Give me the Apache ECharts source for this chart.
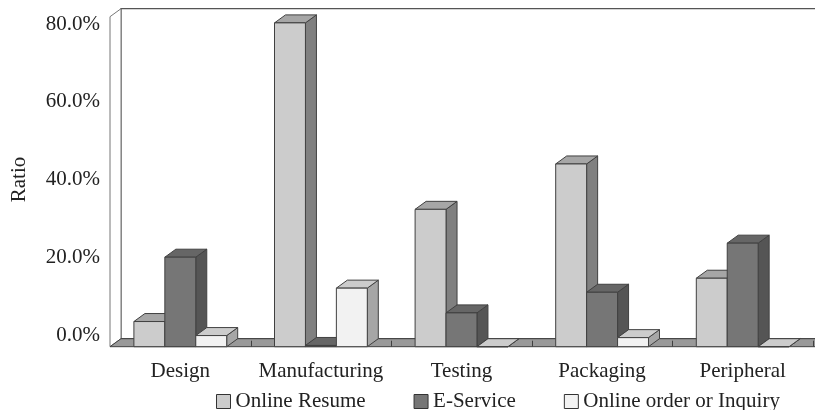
<!DOCTYPE html>
<html>
<head>
<meta charset="utf-8">
<script src="https://cdn.jsdelivr.net/npm/echarts@6/dist/echarts.min.js"></script>
<style>
html,body{margin:0;padding:0;background:#fff}
#chart{width:815px;height:410px}
</style>
</head>
<body>
<div id="chart"></div>
<script>
// data
var categories = ['Design', 'Manufacturing', 'Testing', 'Packaging', 'Peripheral'];
var seriesNames = ['Online Resume', 'E-Service', 'Online order or Inquiry'];
var onlineResume = [6.1, 78.5, 33.3, 44.3, 16.6];
var eService = [21.7, 0.3, 8.2, 13.2, 25.1];
var onlineOrder = [2.7, 14.2, 0, 2.2, 0];
var yTicks = [0, 20, 40, 60, 80];

var FONT = 'Liberation Serif';
var DX = 11, DY = -8; // depth of the fake 3d
var faceColors = [
    {front: '#cccccc', top: '#a6a6a6', side: '#808080'},
    {front: '#767676', top: '#666666', side: '#555555'},
    {front: '#f2f2f2', top: '#cccccc', side: '#a6a6a6'}
];
var EDGE = '#404040';

function toData(arr) {
    var res = [];
    for (var i = 0; i < arr.length; i++) {
        res.push([i, arr[i]]);
    }
    return res;
}

//画立体柱子
function barRender(k) {
    return function (params, api) {
        var cat = api.value(0), val = api.value(1);
        var band = api.size([1, 0])[0];
        var c = api.coord([cat, 0]);
        var t = api.coord([cat, val]);
        var w = band * 0.22;
        var x0 = c[0] - band / 2 + band * 0.17 + k * w;
        var base = c[1], top = t[1];
        var col = faceColors[k];
        return {
            type: 'group',
            children: [
                {type: 'polygon', shape: {points: [[x0 + w, top], [x0 + w + DX, top + DY], [x0 + w + DX, base + DY], [x0 + w, base]]},
                    style: {fill: col.side, stroke: EDGE, lineWidth: 1}},
                {type: 'polygon', shape: {points: [[x0, top], [x0 + DX, top + DY], [x0 + w + DX, top + DY], [x0 + w, top]]},
                    style: {fill: col.top, stroke: EDGE, lineWidth: 1}},
                {type: 'rect', shape: {x: x0, y: top, width: w, height: base - top},
                    style: {fill: col.front, stroke: EDGE, lineWidth: 1}}
            ]
        };
    };
}

//墙和地板
function wallRender(params, api) {
    var cs = params.coordSys;
    var x = cs.x, y = cs.y, w = cs.width, h = cs.height;
    var band = api.size([1, 0])[0];
    var children = [
        {type: 'rect', shape: {x: x + DX, y: y + DY, width: w + 20, height: h},
            style: {fill: '#fff', stroke: '#555', lineWidth: 1.2}},
        {type: 'polygon', shape: {points: [[x, y], [x + DX, y + DY], [x + DX, y + h + DY], [x, y + h]]},
            style: {fill: '#fff', stroke: '#777', lineWidth: 1}},
        {type: 'polygon', shape: {points: [[x, y + h], [x + DX, y + h + DY], [x + w + DX + 20, y + h + DY], [x + w + 20, y + h]]},
            style: {fill: '#999', stroke: EDGE, lineWidth: 1}}
    ];
    for (var i = 1; i <= categories.length; i++) {
        var bx = Math.round(x + band * i) + 0.5;
        children.push({type: 'line', shape: {x1: bx, y1: y + h, x2: bx, y2: y + h + DY + 2},
            style: {stroke: EDGE, lineWidth: 1}});
    }
    return {type: 'group', children: children};
}

var myChart = echarts.init(document.getElementById('chart'));
var option = {
    animation: false,
    textStyle: {fontFamily: FONT},
    grid: [
        {left: 110, right: 2, top: 16.7, bottom: 63.3, outerBoundsMode: 'none'},
        {left: 110, right: 2, top: 24, bottom: 75, outerBoundsMode: 'none'}
    ],
    legend: {
        data: seriesNames,
        left: 211,
        top: 386,
        icon: 'rect',
        itemWidth: 14,
        itemHeight: 14,
        itemGap: 48,
        itemStyle: {borderColor: '#333', borderWidth: 1},
        textStyle: {fontFamily: FONT, fontSize: 21, color: '#222'}
    },
    xAxis: [
        {
            type: 'category',
            gridIndex: 0,
            data: categories,
            axisLine: {show: false},
            axisTick: {show: false},
            axisLabel: {fontFamily: FONT, fontSize: 21, color: '#222', margin: 14, interval: 0}
        },
        {type: 'category', gridIndex: 1, data: categories, show: false}
    ],
    yAxis: [
        {type: 'value', gridIndex: 0, min: 0, max: 80, show: false},
        {
            type: 'value',
            gridIndex: 1,
            min: yTicks[0],
            max: yTicks[yTicks.length - 1],
            interval: 20,
            name: 'Ratio',
            nameLocation: 'middle',
            nameGap: 80,
            nameTextStyle: {fontFamily: FONT, fontSize: 21, color: '#222'},
            axisLine: {show: false},
            axisTick: {show: false},
            splitLine: {show: false},
            axisLabel: {
                fontFamily: FONT, fontSize: 21, color: '#222', margin: 10,
                formatter: function (v) { return v.toFixed(1) + '%'; }
            }
        }
    ],
    series: [
        {
            type: 'custom',
            name: 'walls',
            xAxisIndex: 0,
            yAxisIndex: 0,
            z: 1,
            silent: true,
            renderItem: wallRender,
            data: [[0, 0]]
        },
        {type: 'custom', name: seriesNames[0], z: 2, renderItem: barRender(0), data: toData(onlineResume),
            encode: {x: 0, y: 1}, itemStyle: {color: faceColors[0].front}},
        {type: 'custom', name: seriesNames[1], z: 2, renderItem: barRender(1), data: toData(eService),
            encode: {x: 0, y: 1}, itemStyle: {color: faceColors[1].front}},
        {type: 'custom', name: seriesNames[2], z: 2, renderItem: barRender(2), data: toData(onlineOrder),
            encode: {x: 0, y: 1}, itemStyle: {color: faceColors[2].front}}
    ]
};
myChart.setOption(option);
</script>
</body>
</html>
